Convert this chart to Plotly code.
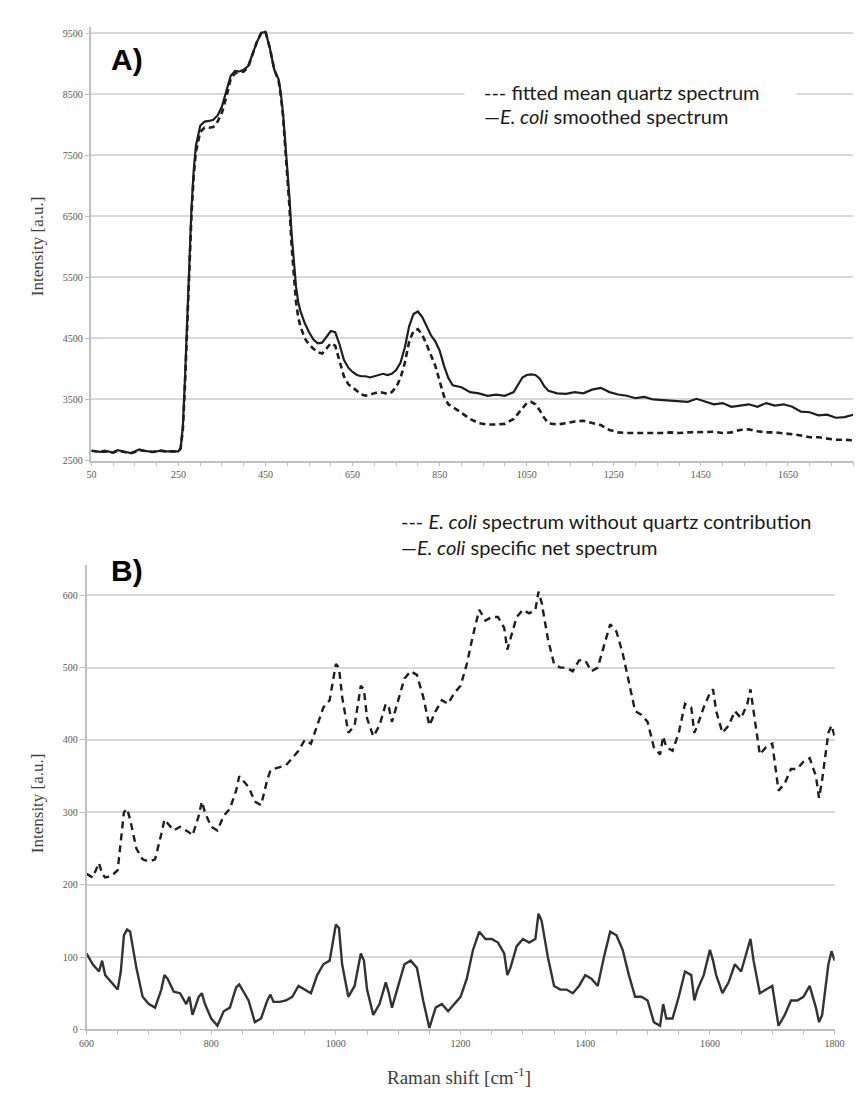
import plotly.graph_objects as go

W, H = 866, 1093

# ---------------- Panel A data ----------------
a_shift = [50, 60, 70, 80, 90, 100, 110, 120, 130, 140, 150, 160, 170, 180, 190, 200, 210, 220, 230, 240, 250,
           255, 260, 265, 270, 275, 280, 285, 290, 300, 310, 320, 330, 340, 350, 360, 370, 380, 390, 400,
           410, 420, 430, 440, 450, 460, 470, 480, 485, 490, 495, 500, 505, 510, 515, 520, 525, 530, 540, 550,
           560, 570, 580, 590, 600, 610, 620, 630, 640, 650, 660, 670, 680, 690, 700, 710, 720, 730, 740, 750,
           760, 770, 780, 790, 800, 810, 820, 830, 840, 850, 860, 870, 880, 890, 900, 920, 940, 960, 980, 1000,
           1020, 1040, 1050, 1060, 1070, 1080, 1090, 1100, 1120, 1140, 1160, 1180, 1200, 1220, 1240, 1260,
           1280, 1300, 1320, 1340, 1360, 1380, 1400, 1420, 1440, 1460, 1480, 1500, 1520, 1540, 1560, 1580,
           1600, 1620, 1640, 1660, 1680, 1700, 1720, 1740, 1760, 1780, 1800]

a_quartz = [2660, 2650, 2640, 2650, 2640, 2630, 2660, 2650, 2630, 2620, 2640, 2670, 2660, 2650, 2640, 2650, 2660, 2650, 2650, 2640, 2650,
            2700, 3000, 3750, 4750, 5750, 6550, 7150, 7550, 7880, 7950, 7950, 7960, 8050, 8200, 8450, 8750, 8840, 8850, 8870,
            8940, 9150, 9350, 9500, 9520, 9250, 8900, 8720, 8480, 8150, 7700, 7200, 6650, 6000, 5500, 5100, 4850, 4700, 4500, 4400,
            4330, 4270, 4250, 4330, 4420, 4380, 4150, 3880, 3750, 3700, 3640, 3580, 3560, 3580, 3600, 3620, 3610, 3590, 3620, 3700,
            3850, 4100, 4450, 4620, 4650, 4560, 4400, 4220, 4050, 3800, 3550, 3420, 3380, 3330, 3280, 3180, 3110, 3090, 3090, 3100,
            3180, 3350, 3440, 3460, 3420, 3320, 3200, 3110, 3090, 3110, 3140, 3150, 3120, 3080, 3000, 2960,
            2950, 2950, 2940, 2950, 2950, 2960, 2950, 2960, 2960, 2960, 2970, 2950, 2960, 3000, 3010, 2980,
            2960, 2960, 2950, 2930, 2910, 2880, 2880, 2860, 2840, 2840, 2830]

a_ecoli = [2660, 2650, 2640, 2660, 2640, 2630, 2670, 2660, 2640, 2620, 2650, 2680, 2660, 2650, 2640, 2650, 2660, 2650, 2650, 2640, 2650,
           2700, 3050, 3850, 4850, 5850, 6650, 7250, 7650, 7980, 8050, 8060, 8080, 8150, 8300, 8550, 8800, 8880, 8870, 8900,
           8960, 9150, 9350, 9500, 9520, 9250, 8900, 8740, 8520, 8200, 7780, 7300, 6800, 6200, 5700, 5350, 5100, 4950, 4750, 4600,
           4480, 4420, 4430, 4520, 4620, 4600, 4400, 4150, 4020, 3950, 3900, 3880, 3880, 3860, 3880, 3900, 3920, 3900, 3920, 3980,
           4100, 4350, 4700, 4900, 4940, 4850, 4700, 4550, 4450, 4300, 4050, 3850, 3730, 3720, 3700, 3620, 3600, 3560, 3580, 3560,
           3620, 3860, 3900, 3910, 3900, 3840, 3720, 3640, 3600, 3590, 3620, 3600, 3660, 3690, 3620, 3580,
           3560, 3520, 3540, 3500, 3490, 3480, 3480, 3460, 3510, 3470, 3420, 3440, 3380, 3400, 3420, 3380,
           3440, 3400, 3420, 3380, 3300, 3290, 3240, 3250, 3200, 3210, 3250]

a_yticks = [2500, 3500, 4500, 5500, 6500, 7500, 8500, 9500]
a_xticks = [50, 250, 450, 650, 850, 1050, 1250, 1450, 1650]

# ---------------- Panel B data ----------------
b_shift = [600, 610, 620, 625, 630, 640, 650, 655, 660, 665, 670, 680, 690, 700, 710, 720, 725, 730, 740, 750,
           760, 765, 770, 780, 785, 790, 800, 810, 820, 830, 840, 845, 850, 860, 870, 880, 890, 895, 900, 910,
           920, 930, 940, 950, 960, 970, 980, 990, 1000, 1005, 1010, 1020, 1030, 1040, 1045, 1050, 1060, 1070,
           1080, 1085, 1090, 1100, 1110, 1120, 1130, 1140, 1150, 1160, 1170, 1180, 1190, 1200, 1210, 1220, 1230,
           1240, 1250, 1260, 1270, 1275, 1280, 1290, 1300, 1310, 1320, 1325, 1330, 1340, 1350, 1360, 1370, 1380,
           1390, 1400, 1410, 1420, 1430, 1440, 1450, 1460, 1470, 1480, 1490, 1500, 1510, 1520, 1525, 1530, 1540,
           1550, 1560, 1570, 1575, 1580, 1590, 1600, 1605, 1610, 1620, 1630, 1640, 1650, 1660, 1665, 1670, 1680,
           1690, 1700, 1710, 1720, 1730, 1740, 1750, 1760, 1770, 1775, 1780, 1790, 1795, 1800]

b_without_quartz = [215, 210, 230, 215, 210, 212, 220, 260, 300, 305, 290, 250, 235, 232, 235, 270, 290, 285, 275, 280,
                    275, 272, 268, 295, 315, 300, 280, 275, 295, 305, 330, 350, 345, 335, 315, 310, 345, 358, 360, 362,
                    365, 375, 385, 400, 395, 420, 445, 455, 505, 500, 460, 410, 420, 475, 470, 430, 405, 420,
                    450, 445, 425, 455, 485, 495, 490, 460, 420, 440, 455, 450, 465, 475, 505, 545, 580,
                    565, 570, 570, 555, 525, 540, 570, 580, 575, 580, 605, 590, 540, 505, 500, 500, 495,
                    510, 510, 495, 500, 530, 560, 550, 520, 480, 440, 435, 425, 390, 380, 405, 390, 385,
                    410, 450, 445, 410, 420, 445, 465, 470, 440, 410, 420, 440, 430, 450, 470, 440, 380,
                    390, 395, 330, 340, 360, 360, 370, 375, 350, 320, 345, 410, 420, 405]

b_net = [105, 90, 80, 95, 75, 65, 55, 80, 130, 138, 135, 85, 45, 35, 30, 55, 75, 70, 52, 50,
         35, 45, 20, 45, 50, 35, 15, 5, 25, 30, 58, 62, 55, 40, 10, 15, 40, 48, 38, 38,
         40, 45, 60, 55, 50, 75, 90, 95, 145, 140, 90, 45, 60, 105, 95, 55, 20, 35,
         65, 50, 30, 60, 90, 95, 85, 40, 2, 30, 35, 25, 35, 45, 70, 110, 135,
         125, 125, 120, 105, 75, 85, 115, 125, 120, 125, 160, 150, 100, 60, 55, 55, 50,
         60, 75, 70, 60, 100, 135, 130, 110, 75, 45, 45, 40, 10, 5, 35, 15, 15,
         45, 80, 75, 40, 55, 75, 110, 95, 75, 50, 65, 90, 80, 110, 125, 95, 50,
         55, 60, 5, 20, 40, 40, 45, 60, 30, 10, 20, 90, 108, 95]

b_yticks = [0, 100, 200, 300, 400, 500, 600]
b_xticks = [600, 800, 1000, 1200, 1400, 1600, 1800]

# ---------------- styling helpers ----------------
def px_x(p):
    return p / W

def px_y(p):
    return 1 - p / H

GRID = "#d9d9d9"
AXIS = "#bfbfbf"
TICKFONT = dict(family="Liberation Serif, DejaVu Serif, serif", size=10, color="#595959")
INK = "#1e1e1e"

fig = go.Figure()

fig.add_trace(go.Scatter(x=a_shift, y=a_quartz, mode="lines", xaxis="x", yaxis="y",
                         line=dict(color=INK, width=2.6, dash="6px,4px"), showlegend=False))
fig.add_trace(go.Scatter(x=a_shift, y=a_ecoli, mode="lines", xaxis="x", yaxis="y",
                         line=dict(color=INK, width=2.2), showlegend=False))
fig.add_trace(go.Scatter(x=b_shift, y=b_without_quartz, mode="lines", xaxis="x2", yaxis="y2",
                         line=dict(color=INK, width=2.4, dash="7px,5px"), showlegend=False))
fig.add_trace(go.Scatter(x=b_shift, y=b_net, mode="lines", xaxis="x2", yaxis="y2",
                         line=dict(color="#333333", width=2.4), showlegend=False))

common_x = dict(showgrid=False, showline=True, linecolor=AXIS, linewidth=1.5, ticks="outside",
                ticklen=4, tickcolor=AXIS, tickfont=TICKFONT, zeroline=False)
common_y = dict(showgrid=True, gridcolor=GRID, gridwidth=1.8, showline=True, linecolor=AXIS, linewidth=1.5,
                ticks="outside", ticklen=5, tickcolor=AXIS, tickfont=TICKFONT, zeroline=False)

fig.update_layout(
    width=W, height=H,
    margin=dict(l=0, r=0, t=0, b=0),
    paper_bgcolor="white", plot_bgcolor="white",
    xaxis=dict(domain=[px_x(77), px_x(855)], anchor="y", range=[50, 1800],
               tickmode="array", tickvals=a_xticks, ticktext=[str(v) for v in a_xticks],
               minor=dict(tickmode="linear", tick0=50, dtick=50, ticks="outside", ticklen=4, tickcolor=AXIS),
               **common_x),
    yaxis=dict(domain=[px_y(455), px_y(19)], anchor="x", range=[2500, 9600],
               tickmode="array", tickvals=a_yticks, ticktext=[str(v) for v in a_yticks],
               **common_y),
    xaxis2=dict(domain=[px_x(72), px_x(836)], anchor="y2", range=[600, 1800],
                tickmode="array", tickvals=b_xticks, ticktext=[str(v) for v in b_xticks],
                minor=dict(tickmode="linear", tick0=600, dtick=50, ticks="outside", ticklen=4, tickcolor=AXIS),
                **common_x),
    yaxis2=dict(domain=[px_y(1027), px_y(560)], anchor="x2", range=[0, 642],
                tickmode="array", tickvals=b_yticks, ticktext=[str(v) for v in b_yticks],
                **common_y),
)

# white box behind legend of panel A (hides part of a gridline, as in the original)
fig.add_shape(type="rect", xref="paper", yref="paper",
              x0=px_x(458), x1=px_x(797), y0=px_y(138), y1=px_y(40),
              fillcolor="white", line=dict(width=0), layer="above")

LEG = dict(family="Lato, Open Sans, sans-serif", size=20, color="#1a1a1a")
SERIF = dict(family="Liberation Serif, DejaVu Serif, serif", size=17, color="#404040")

annos = [
    dict(text="<b>A)</b>", x=px_x(95), y=px_y(52), xanchor="left", yanchor="middle",
         font=dict(family="Liberation Sans, Arial, sans-serif", size=30, color="black")),
    dict(text="<b>B)</b>", x=px_x(95), y=px_y(566), xanchor="left", yanchor="middle",
         font=dict(family="Liberation Sans, Arial, sans-serif", size=30, color="black")),
    dict(text="--- fitted mean quartz spectrum", x=px_x(476), y=px_y(84), xanchor="left", yanchor="middle", font=LEG),
    dict(text="\u2014<i>E. coli</i> smoothed spectrum", x=px_x(476), y=px_y(109), xanchor="left", yanchor="middle", font=LEG),
    dict(text="--- <i>E. coli</i> spectrum without quartz contribution", x=px_x(391), y=px_y(516),
         xanchor="left", yanchor="middle", font=LEG),
    dict(text="\u2014<i>E. coli</i> specific net spectrum", x=px_x(391), y=px_y(542),
         xanchor="left", yanchor="middle", font=LEG),
    dict(text="Intensity [a.u.]", x=px_x(22), y=px_y(240), textangle=-90, xanchor="center", yanchor="middle", font=SERIF),
    dict(text="Intensity [a.u.]", x=px_x(22), y=px_y(800), textangle=-90, xanchor="center", yanchor="middle", font=SERIF),
    dict(text="Raman shift [cm<sup>-1</sup>]", x=px_x(452), y=px_y(1074), xanchor="center", yanchor="middle",
         font=dict(family="Liberation Serif, DejaVu Serif, serif", size=19, color="#404040")),
]
for a in annos:
    a.update(xref="paper", yref="paper", showarrow=False)
    fig.add_annotation(**a)

fig.write_html("out.html")
